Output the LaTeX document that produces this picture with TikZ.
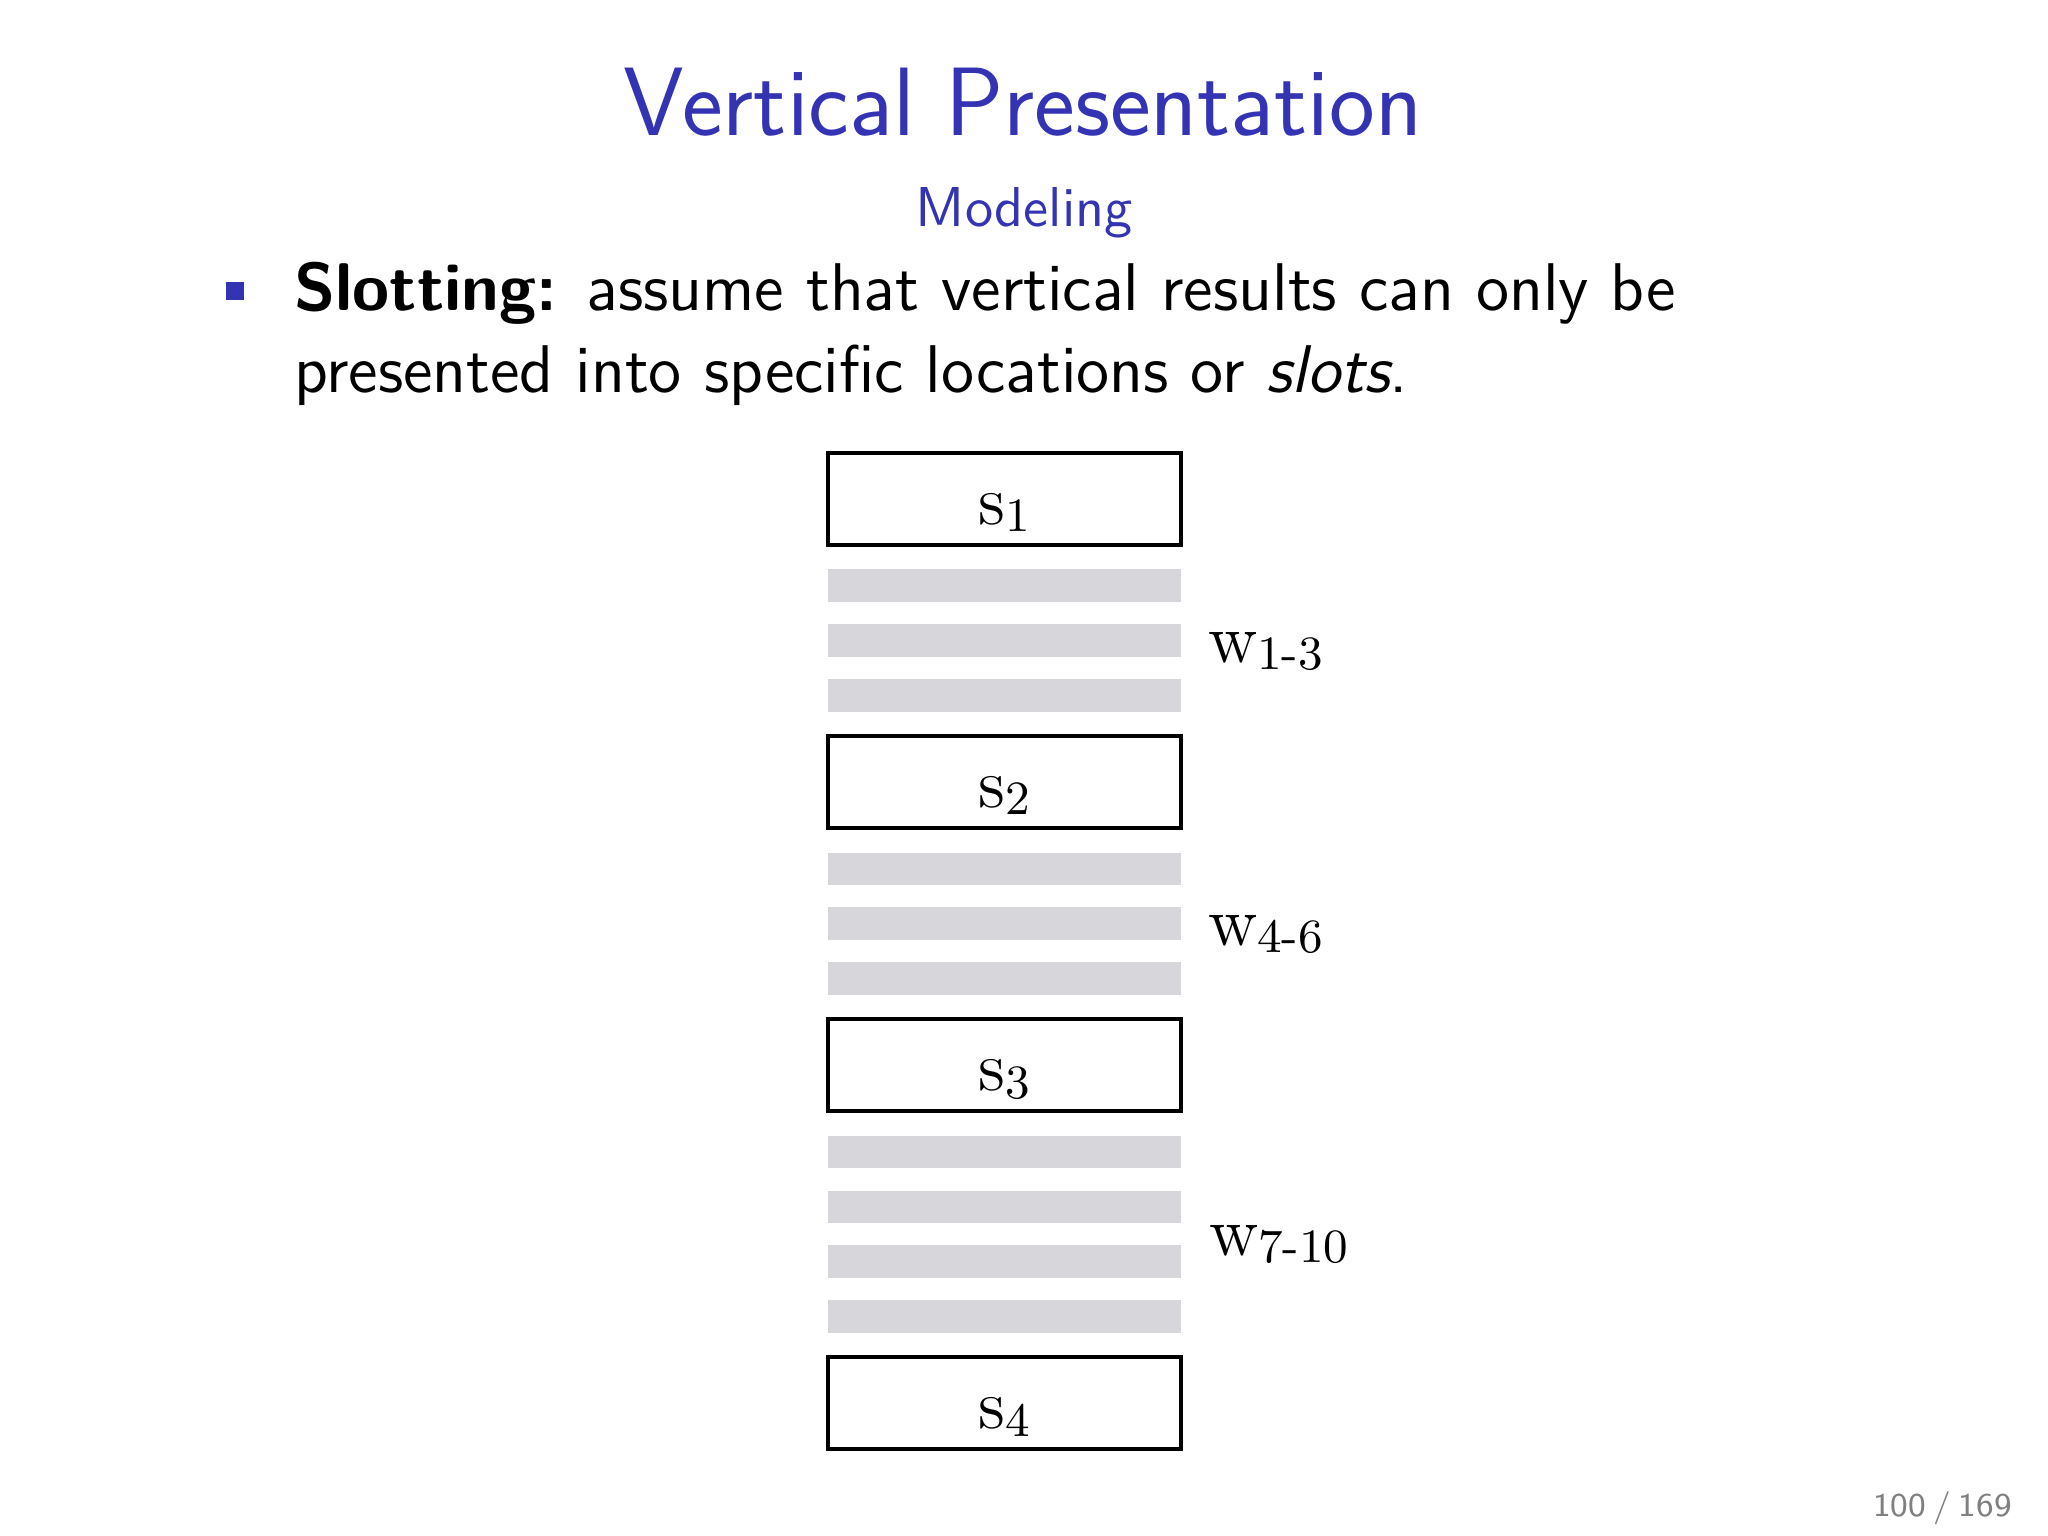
\documentclass[tikz,border=0pt]{standalone}
\usepackage{fontspec}
\definecolor{beamerblue}{RGB}{51,51,179}
\definecolor{slotgray}{RGB}{215,214,219}
\definecolor{pagegray}{RGB}{128,128,128}
\tikzset{
  slotbox/.style={draw=black, line width=0.25mm, fill=white, inner sep=0pt, outer sep=0pt,
    minimum width=22.0625mm, minimum height=5.75mm},
  graybar/.style={fill=slotgray, draw=none, inner sep=0pt, outer sep=0pt,
    minimum width=22.0625mm, minimum height=2.03mm},
  slotlbl/.style={inner sep=0pt, anchor=base, font=\fontsize{12.4}{14}\selectfont\rmfamily},
  grplbl/.style={inner sep=0pt, anchor=base west, font=\fontsize{12.4}{14}\selectfont\rmfamily},
  bodytext/.style={inner sep=0pt, anchor=base west, font=\sffamily\fontsize{12}{14.5}\selectfont},
  bulletsq/.style={fill=beamerblue, draw=none, inner sep=0pt, minimum size=1.125mm}
}
\newcommand{\subsc}[1]{{\fontsize{8.5}{10}\selectfont\raisebox{-1.4pt}{#1}}}
\begin{document}
\begin{tikzpicture}[x=0.0625mm, y=-0.0625mm]
\useasboundingbox (0,0) rectangle (2048,1536);
\fill[white] (0,0) rectangle (2048,1536);
% title
\node[inner sep=0pt, anchor=base, text=beamerblue, font=\sffamily\fontsize{17.28}{20}\selectfont] (title) at (1023,136) {Vertical Presentation};
\node[inner sep=0pt, anchor=base, text=beamerblue, font=\sffamily\fontsize{10}{12}\selectfont] (subtitle) at (1024.5,226) {Modeling};
% bullet
\node[bulletsq] (bul) at (235,291) {};
\node[bodytext] (line1) at (293,310) {\textbf{Slotting:} assume that vertical results can only be};
\node[bodytext] (line2) at (293,392) {presented into specific locations or \emph{slots}.};
% slots
\node[slotbox] (s1) at (1004.5,499) {};
\node[graybar] (b11) at (1004.5,585.65) {};
\node[graybar] (b12) at (1004.5,640.55) {};
\node[graybar] (b13) at (1004.5,695.45) {};
\node[slotbox] (s2) at (1004.5,782.1) {};
\node[graybar] (b21) at (1004.5,868.75) {};
\node[graybar] (b22) at (1004.5,923.65) {};
\node[graybar] (b23) at (1004.5,978.55) {};
\node[slotbox] (s3) at (1004.5,1065.2) {};
\node[graybar] (b31) at (1004.5,1151.85) {};
\node[graybar] (b32) at (1004.5,1206.75) {};
\node[graybar] (b33) at (1004.5,1261.65) {};
\node[graybar] (b34) at (1004.5,1316.55) {};
\node[slotbox] (s4) at (1004.5,1403.2) {};
% slot labels
\node[slotlbl] (ls1) at ([yshift=-1.5625mm]s1.center) {s\subsc{1}};
\node[slotlbl] (ls2) at ([yshift=-1.5625mm]s2.center) {s\subsc{2}};
\node[slotlbl] (ls3) at ([yshift=-1.5625mm]s3.center) {s\subsc{3}};
\node[slotlbl] (ls4) at ([yshift=-1.5625mm]s4.center) {s\subsc{4}};
% group labels
\node[grplbl] (w1) at (1207,662) {w\subsc{1-3}};
\node[grplbl] (w2) at (1207,945) {w\subsc{4-6}};
\node[grplbl] (w3) at (1208,1255) {w\subsc{7-10}};
% page number
\node[inner sep=0pt, anchor=base east, text=pagegray, font=\sffamily\fontsize{5.9}{7}\selectfont] (pg) at (2013,1516) {100\hspace{0.23em}/\hspace{0.23em}169};
\end{tikzpicture}
\end{document}
